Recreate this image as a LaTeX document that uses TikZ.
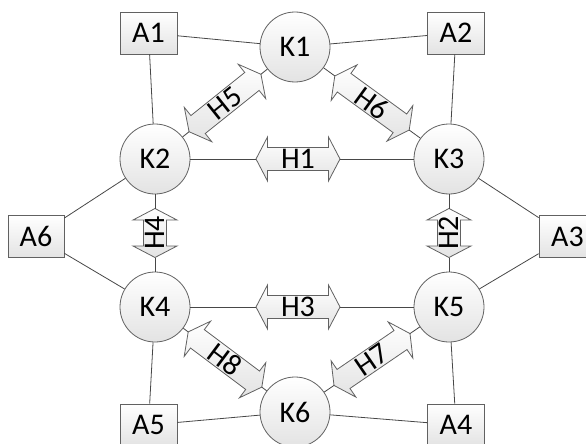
\documentclass[tikz,border=0pt]{standalone}
\usepackage{fontspec}
\setmainfont{Carlito}
\tikzset{
  shadefill/.style={top color=white, bottom color=black!11, draw=black!62, line width=0.8pt, line join=miter},
  knode/.style={circle, shadefill, minimum size=70pt, inner sep=0pt, font=\fontsize{30}{32}\selectfont},
  abox/.style={rectangle, shadefill, minimum width=57pt, minimum height=42pt, inner sep=0pt, font=\fontsize{30}{32}\selectfont},
  hlabel/.style={inner sep=0pt, font=\fontsize{30}{32}\selectfont},
  link/.style={draw=black!72, line width=0.8pt},
}
% #1 name, #2 centre, #3 angle, #4 half length, #5 label
\newcommand\harrowdraw[5]{%
  \begin{scope}[shift={#2}, rotate=#3]
    \draw[shadefill] (-#4,0) -- ++(11.5,22) -- ++(0,-10.5) -- (#4-11.5,11.5) -- ++(0,10.5) -- (#4,0)
      -- ++(-11.5,-22) -- ++(0,10.5) -- (-#4+11.5,-11.5) -- ++(0,-10.5) -- cycle;
    \coordinate (#1l) at (-#4,0);
    \coordinate (#1r) at (#4,0);
    \node[hlabel, rotate=#3] (#1) at (0,0) {#5};
  \end{scope}}
\begin{document}
\begin{tikzpicture}[x=1pt,y=-1pt]
\useasboundingbox (0,0) rectangle (586,444);
\clip (0,0) rectangle (586,444);
% circles
\node[knode] (K1) at (295,47) {K1};
\node[knode] (K2) at (155,159) {K2};
\node[knode] (K3) at (449,159) {K3};
\node[knode] (K4) at (155,307) {K4};
\node[knode] (K5) at (449,307) {K5};
\node[knode] (K6) at (295,412) {K6};
% boxes
\node[abox] (A1) at (148.5,33) {A1};
\node[abox] (A2) at (456,33) {A2};
\node[abox, minimum width=56pt] (A6) at (36,236.5) {A6};
\node[abox] (A3) at (567.5,236.5) {A3};
\node[abox] (A5) at (148.5,425) {A5};
\node[abox] (A4) at (456,425) {A4};
% double arrows
\harrowdraw{h1}{(298,159)}{0}{42}{H1}
\harrowdraw{h3}{(298,307)}{0}{42}{H3}
\harrowdraw{h4}{(155,233)}{90}{24.5}{H4}
\harrowdraw{h2}{(449,233)}{90}{24.5}{H2}
\harrowdraw{h5}{(225,103)}{38.66}{46}{H5}
\harrowdraw{h6}{(372,103)}{-36.03}{46}{H6}
\harrowdraw{h8}{(225,359.5)}{-36.87}{46}{H8}
\harrowdraw{h7}{(372,359.5)}{34.29}{46}{H7}
% links to boxes
\draw[link] (A1) -- (K1);
\draw[link] (A1) -- (K2);
\draw[link] (A2) -- (K1);
\draw[link] (A2) -- (K3);
\draw[link] (A6) -- (K2);
\draw[link] (A6) -- (K4);
\draw[link] (A3) -- (K3);
\draw[link] (A3) -- (K5);
\draw[link] (A5) -- (K4);
\draw[link] (A5) -- (K6);
\draw[link] (A4) -- (K5);
\draw[link] (A4) -- (K6);
% links through arrows
\draw[link] (K2) -- (h1l);
\draw[link] (h1r) -- (K3);
\draw[link] (K4) -- (h3l);
\draw[link] (h3r) -- (K5);
\draw[link] (K4) -- (h4l);
\draw[link] (h4r) -- (K2);
\draw[link] (K5) -- (h2l);
\draw[link] (h2r) -- (K3);
\draw[link] (K2) -- (h5l);
\draw[link] (h5r) -- (K1);
\draw[link] (K1) -- (h6l);
\draw[link] (h6r) -- (K3);
\draw[link] (K4) -- (h8l);
\draw[link] (h8r) -- (K6);
\draw[link] (K6) -- (h7l);
\draw[link] (h7r) -- (K5);
\end{tikzpicture}
\end{document}
